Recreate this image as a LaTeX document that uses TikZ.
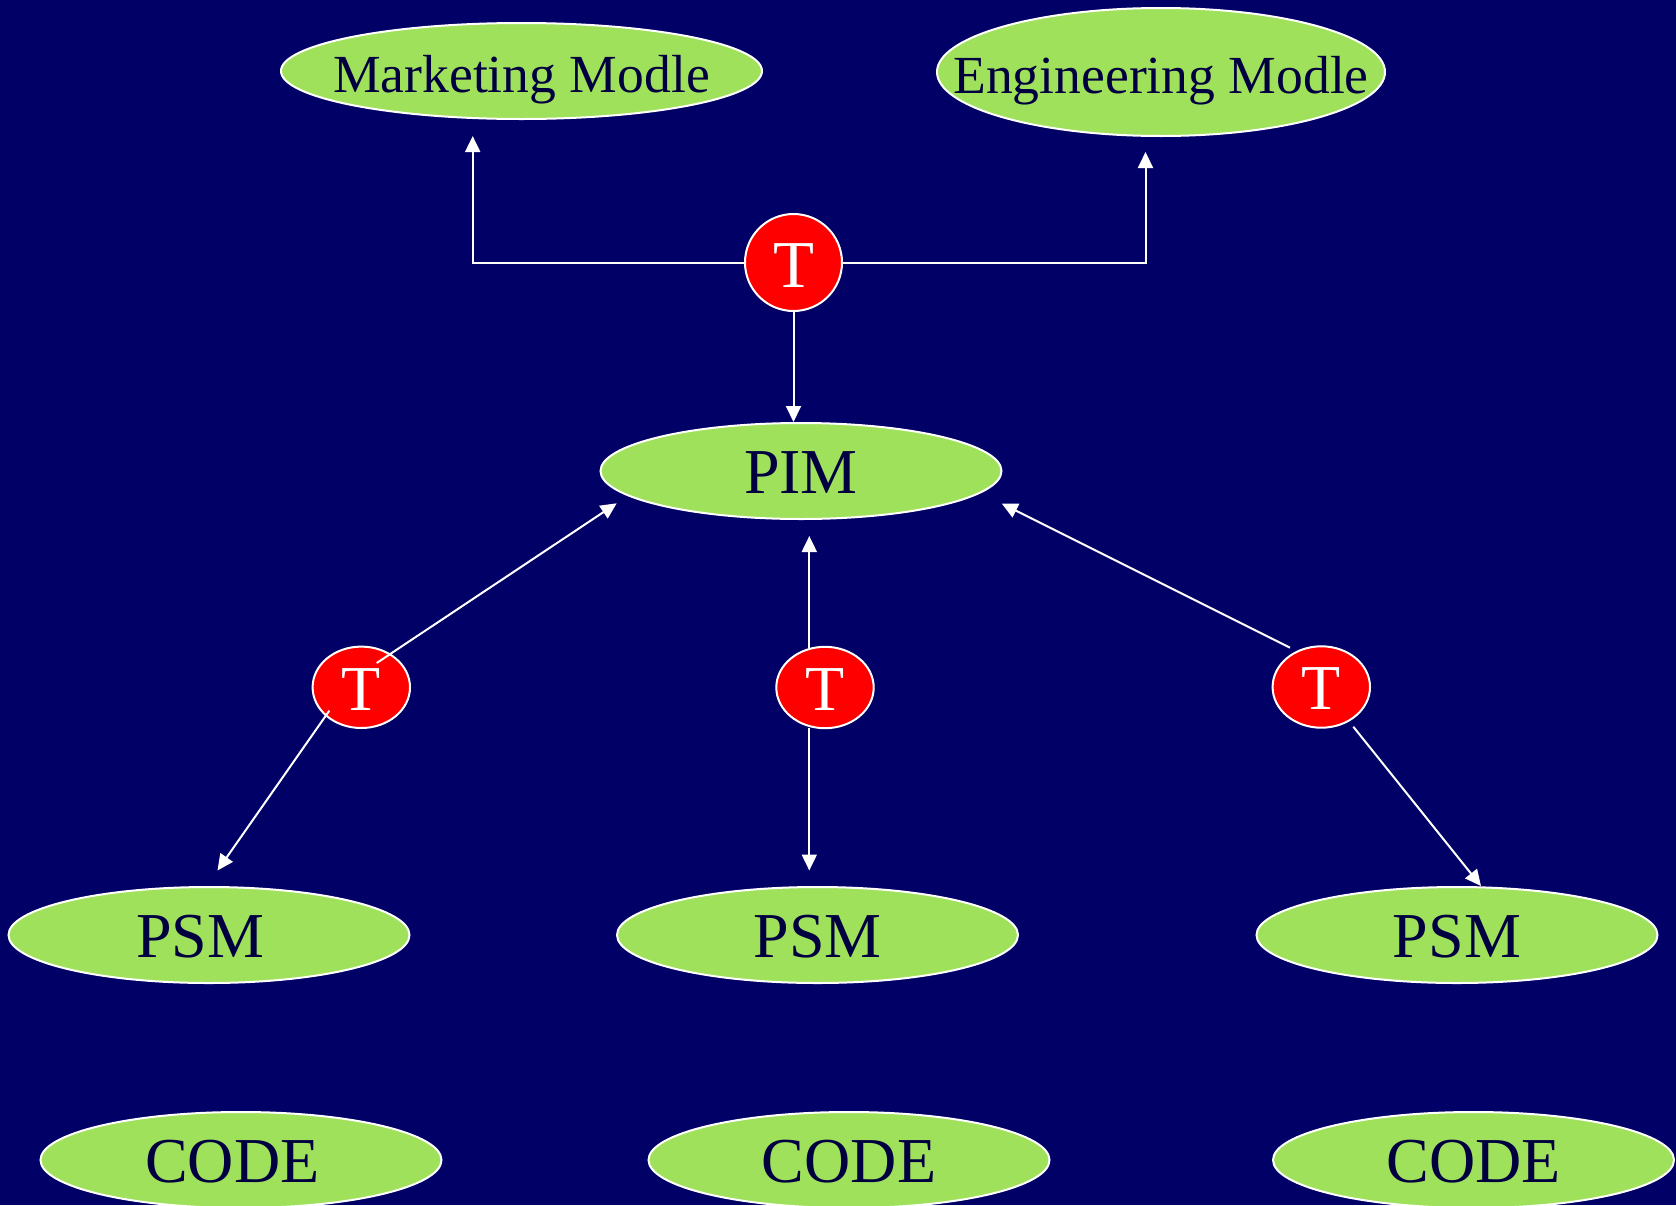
\documentclass[tikz,border=0pt]{standalone}
\usepackage{fontspec}
\setmainfont{Liberation Serif}
\usetikzlibrary{shapes.geometric,arrows.meta}

\definecolor{navybg}{RGB}{0,0,102}
\definecolor{modelgreen}{RGB}{160,225,92}
\definecolor{modeltext}{RGB}{0,0,64}
\definecolor{transred}{RGB}{255,0,0}

\tikzset{
  model/.style={ellipse, draw=white, line width=1pt, fill=modelgreen,
    inner sep=0pt, minimum width=200.5pt, minimum height=48pt},
  modeltxt/.style={text=modeltext, font=\fontsize{32}{32}\selectfont, yshift=-1pt},
  smalltxt/.style={modeltxt, font=\fontsize{26.8}{26.8}\selectfont, yshift=-3.5pt},
  transf/.style={ellipse, draw=white, line width=1pt, fill=transred,
    inner sep=0pt, minimum width=48.7pt, minimum height=40.7pt,
    text=white, font=\fontsize{32}{32}\selectfont},
  flow/.style={draw=white, line width=1pt,
    -{Triangle[length=8pt,width=7.5pt]}}
}

\begin{document}
\begin{tikzpicture}[x=0.5pt,y=-0.5pt]
  % page background
  \fill[navybg] (0,0) rectangle (1676,1205);
  \useasboundingbox (0,0) rectangle (1676,1205);

  % source models
  \node[model, minimum width=240.5pt, minimum height=48pt,
        label={[smalltxt]center:Marketing Modle}]
        (mkt) at (521.5,71) {};
  \node[model, minimum width=224pt, minimum height=64pt,
        label={[smalltxt]center:Engineering Modle}]
        (eng) at (1161,72) {};

  % top transformation
  \node[transf, minimum width=48.5pt, minimum height=48.5pt,
        font=\fontsize{33.5}{33.5}\selectfont,
        label={[text=white, font=\fontsize{33.5}{33.5}\selectfont, yshift=-1.3pt]center:T}]
        (tTop) at (793.5,262.5) {};

  % platform independent model
  \node[model, label={[modeltxt]center:PIM}] (pim) at (801,471) {};

  % second row of transformations
  \node[transf, label={[text=white, font=\fontsize{32}{32}\selectfont, yshift=-1pt]center:T}]
        (tL) at (361.3,687.3) {};
  \node[transf, label={[text=white, font=\fontsize{32}{32}\selectfont, yshift=-1pt]center:T}]
        (tM) at (825,687.5) {};
  \node[transf, label={[text=white, font=\fontsize{32}{32}\selectfont, yshift=-1pt]center:T}]
        (tR) at (1321.3,687) {};

  % platform specific models
  \node[model, label={[modeltxt, xshift=-4.3pt]center:PSM}] (psmL) at (209,935) {};
  \node[model, label={[modeltxt]center:PSM}] (psmM) at (817.5,935) {};
  \node[model, label={[modeltxt]center:PSM}] (psmR) at (1457,935) {};

  % code
  \node[model, label={[modeltxt, xshift=-4.3pt]center:CODE}] (codeL) at (241,1160) {};
  \node[model, label={[modeltxt]center:CODE}] (codeM) at (849,1160) {};
  \node[model, label={[modeltxt]center:CODE}] (codeR) at (1473.5,1160) {};

  % connector ends
  \coordinate (mktTip) at (472.7,136);
  \coordinate (engTip) at (1145.5,152);
  \coordinate (pimTopTip) at (793.5,422);
  \coordinate (tLout1) at (376.7,663);
  \coordinate (pimLTip) at (616.7,503.3);
  \coordinate (tLout2) at (329.3,710.7);
  \coordinate (psmLTip) at (217.5,870.5);
  \coordinate (tMtop) at (809.3,647.5);
  \coordinate (pimMTip) at (809.3,536);
  \coordinate (tMbot) at (809.3,727.5);
  \coordinate (psmMTip) at (809.3,870.5);
  \coordinate (tRout1) at (1290,647.7);
  \coordinate (pimRTip) at (1001.7,503.5);
  \coordinate (tRout2) at (1353.3,726.7);
  \coordinate (psmRTip) at (1481,886);

  % connectors
  \draw[flow] (tTop.west) -| (mktTip);
  \draw[flow] (tTop.east) -| (engTip);
  \draw[flow] (tTop.south) -- (pimTopTip);
  \draw[flow] (tLout1) -- (pimLTip);
  \draw[flow] (tLout2) -- (psmLTip);
  \draw[flow] (tMtop) -- (pimMTip);
  \draw[flow] (tMbot) -- (psmMTip);
  \draw[flow] (tRout1) -- (pimRTip);
  \draw[flow] (tRout2) -- (psmRTip);
\end{tikzpicture}
\end{document}
